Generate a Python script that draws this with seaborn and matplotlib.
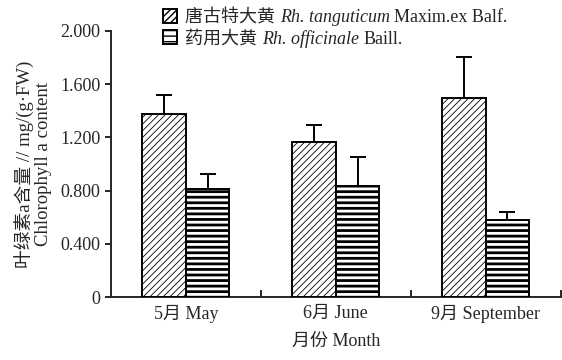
import matplotlib
matplotlib.use("Agg")
import matplotlib.pyplot as plt
from matplotlib.text import Annotation
import seaborn as sns
import pandas as pd
import numpy as np

months = ["5月 May", "6月 June", "9月 September"]
species = ["tang", "offi"]
tang_mean = [1.374, 1.165, 1.494]
tang_err = [0.145, 0.128, 0.313]
offi_mean = [0.814, 0.835, 0.577]
offi_err = [0.108, 0.220, 0.065]
yticks = [0, 0.4, 0.8, 1.2, 1.6, 2.0]
ytick_labels = ["0", "0.400", "0.800", "1.200", "1.600", "2.000"]
# legend label pieces: chinese name, italic latin name, authority
legend_cn = ["唐古特大黄", "药用大黄"]
legend_it = ["Rh. tanguticum", "Rh. officinale"]
legend_rm = ["Maxim.ex Balf.", "Baill."]

sns.set_style("ticks")
fonts = ["Liberation Serif", "Noto Sans CJK SC"]
plt.rcParams["font.family"] = fonts
fs = 13

df = pd.DataFrame({
    "month": months * 2,
    "species": [species[0]] * 3 + [species[1]] * 3,
    "value": tang_mean + offi_mean,
})

fig = plt.figure(figsize=(5.62, 3.60), dpi=100)
ax = fig.add_axes([0.1975, 0.175, 0.8, 0.739])

sns.barplot(data=df, x="month", y="value", hue="species", order=months,
            hue_order=species, palette=["white", "white"], width=0.58,
            errorbar=None, legend=False, ax=ax, zorder=3)

hatches = ["/////", "---"]
hatch_lw = [0.6, 2.0]
errs = [tang_err, offi_err]
legend_handles = []
bar_containers = list(ax.containers)
for i, cont in enumerate(bar_containers):
    xs = []
    for p in cont.patches:
        p.set_edgecolor("black")
        p.set_linewidth(1.4)
        p.set_hatch(hatches[i])
        if hasattr(p, "set_hatch_linewidth"):
            p.set_hatch_linewidth(hatch_lw[i])
        xs.append(p.get_x() + p.get_width() / 2)
    means = [p.get_height() for p in cont.patches]
    ax.errorbar(xs, means, yerr=[np.zeros(3), errs[i]], fmt="none",
                ecolor="black", elinewidth=1.4, capsize=6, capthick=1.4, zorder=2)
    legend_handles.append(cont.patches[0])

leg = fig.legend(legend_handles, [c + " " for c in legend_cn], loc="upper left",
                 bbox_to_anchor=(0.278, 0.995), frameon=False, fontsize=fs,
                 handlelength=0.75, handleheight=0.85, handletextpad=0.45,
                 labelspacing=0.2, borderaxespad=0)

# chain the italic and roman parts after each chinese label (drawn after legend)
for t, it, rm in zip(leg.get_texts(), legend_it, legend_rm):
    a = Annotation(it + " ", xy=(1, 0), xycoords=t, va="bottom", ha="left",
                   fontsize=fs, fontstyle="italic", annotation_clip=False)
    a.set_zorder(6)
    fig.add_artist(a)
    b = Annotation(rm, xy=(1, 0), xycoords=a, va="bottom", ha="left",
                   fontsize=fs, annotation_clip=False)
    b.set_zorder(7)
    fig.add_artist(b)

ax.set_xlim(-0.5, 2.5)
ax.set_ylim(0, 2.0)
ax.set_yticks(yticks)
ax.set_yticklabels(ytick_labels)
ax.set_xticks([0.5, 1.5, 2.5], minor=True)
ax.tick_params(axis="x", which="major", length=0, labelsize=fs, pad=6)
ax.tick_params(axis="x", which="minor", direction="in", length=5, width=1.4)
ax.tick_params(axis="y", direction="out", length=4, width=1.4, labelsize=fs)
for s in ["left", "bottom"]:
    ax.spines[s].set_linewidth(1.4)
sns.despine(ax=ax)

ax.set_xlabel("月份 Month", fontsize=fs, labelpad=7)
ax.set_ylabel("叶绿素a含量 // mg/(g·FW)\nChlorophyll a content", fontsize=13.5,
              labelpad=6, linespacing=1.0)

fig.savefig("out.png", dpi=100)
